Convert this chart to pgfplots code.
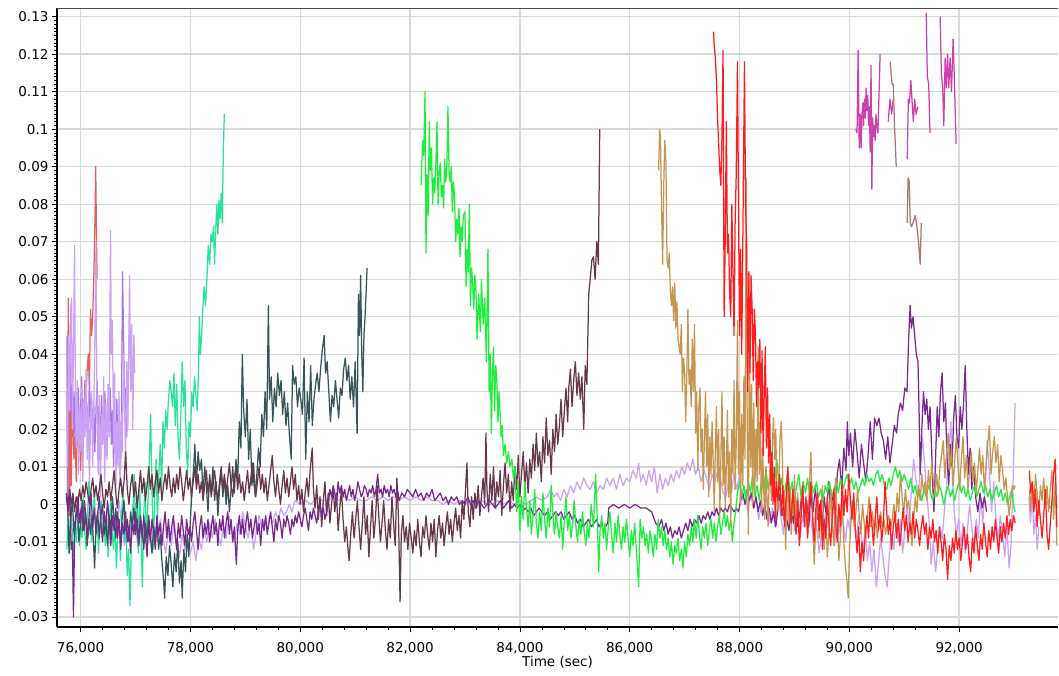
\documentclass[border=0pt]{standalone}
\usepackage{fontspec}
\setmainfont{DejaVu Sans}
\usepackage{pgfplots}
\usepackage{pgfplotstable}
\pgfplotsset{compat=1.18}

\definecolor{cLightRed}{RGB}{232,96,88}
\definecolor{cLav}{RGB}{202,162,246}
\definecolor{cMedPur}{RGB}{165,120,222}
\definecolor{cTeal}{RGB}{40,228,150}
\definecolor{cSlate}{RGB}{55,85,88}
\definecolor{cDkPur}{RGB}{122,40,145}
\definecolor{cMaroon}{RGB}{105,55,75}
\definecolor{cGreen}{RGB}{30,238,60}
\definecolor{cTan}{RGB}{198,150,80}
\definecolor{cRed}{RGB}{255,30,30}
\definecolor{cMag}{RGB}{205,65,175}
\definecolor{cRosy}{RGB}{175,115,115}
\definecolor{cGrid}{RGB}{218,218,218}

\begin{document}

% early light red burst
\pgfplotstableread{
x y
75760 0.000
75775 0.055
75790 0.010
75800 -0.003
75815 0.048
75830 0.005
75845 0.028
75860 0.022
75880 0.012
75900 0.018
75920 0.006
75940 0.025
75960 0.015
75980 0.020
76000 0.009
76020 0.019
76040 0.028
76060 0.024
76080 0.033
76100 0.030
76120 0.036
76140 0.040
76160 0.032
76180 0.052
76200 0.045
76220 0.050
76240 0.060
76260 0.075
76275 0.090
76290 0.070
76300 0.060
}\tLightRed

% early lavender burst
\pgfplotstableread{
x y
75740 0.030
75760 0.010
75780 0.045
75800 0.025
75820 0.052
75836 0.055
75850 0.020
75870 0.040
75890 0.069
75905 0.030
75920 0.015
75940 0.033
75960 0.008
75980 0.026
76000 0.014
76020 0.031
76040 0.006
76060 0.028
76080 0.018
76100 0.036
76120 0.012
76140 0.027
76160 0.004
76180 0.022
76200 0.030
76220 0.010
76240 0.026
76260 0.044
76280 0.070
76300 0.022
76320 0.008
76340 0.029
76360 0.002
76380 0.024
76400 0.016
76420 0.034
76440 0.006
76460 0.027
76480 0.012
76500 0.032
76520 0.018
76545 0.073
76560 0.040
76580 0.049
76600 0.015
76620 0.035
76640 0.003
76660 0.022
76680 0.010
76700 0.030
76720 0.005
76740 0.024
76760 0.014
76780 0.040
76800 0.026
76820 0.012
76840 0.038
76860 0.020
76891 0.061
76910 0.030
76930 0.048
76950 0.020
76970 0.045
76985 0.035
}\tLavA

% early medium purple burst
\pgfplotstableread{
x y
75750 0.045
75765 -0.003
75780 0.030
75800 0.034
75820 0.025
75840 0.032
75860 0.020
75880 0.030
75900 0.016
75920 0.027
75940 0.022
75960 0.031
75980 0.018
76000 0.026
76020 0.034
76040 0.012
76060 0.024
76080 0.030
76100 0.020
76120 0.026
76140 0.015
76160 0.035
76180 0.022
76200 0.028
76220 0.018
76240 0.027
76260 0.014
76280 0.025
76300 0.033
76320 0.019
76340 0.026
76360 0.012
76380 0.029
76400 0.021
76420 0.017
76440 0.030
76460 0.024
76480 0.013
76500 0.027
76520 0.020
76540 0.031
76560 0.016
76580 0.025
76600 0.010
76620 0.022
76640 0.018
76660 0.028
76680 0.012
76700 0.020
76720 0.008
76740 0.015
76764 0.062
76780 0.047
76800 0.025
76820 0.031
76840 0.018
76860 0.028
}\tMedPur

% teal
\pgfplotstableread{
x y
75750 -0.012
75775 -0.003
75800 -0.013
75825 0.000
75850 -0.008
75875 -0.014
75900 -0.005
75925 -0.010
75950 -0.002
75975 -0.011
76000 -0.006
76025 -0.009
76050 0.002
76075 -0.007
76100 -0.012
76125 -0.004
76150 0.006
76175 -0.002
76200 -0.010
76225 -0.005
76250 0.004
76275 -0.008
76300 -0.003
76325 -0.013
76350 -0.006
76375 0.001
76400 -0.009
76425 -0.004
76450 -0.011
76475 -0.002
76500 -0.014
76525 -0.006
76550 0.003
76575 -0.008
76600 -0.012
76625 -0.003
76650 -0.017
76675 -0.008
76700 -0.004
76725 -0.015
76750 -0.002
76775 0.005
76800 -0.010
76825 -0.006
76850 -0.019
76875 -0.012
76900 -0.027
76925 -0.010
76950 -0.004
76975 0.008
77000 -0.006
77025 0.002
77050 -0.013
77075 0.005
77100 -0.008
77125 -0.022
77150 -0.003
77175 0.006
77200 -0.011
77225 0.000
77250 0.010
77275 0.024
77300 0.004
77325 -0.012
77350 0.002
77375 0.012
77400 -0.005
77425 0.008
77450 0.016
77475 0.004
77500 0.022
77525 0.015
77550 0.025
77575 0.020
77600 0.028
77625 0.033
77650 0.030
77675 0.026
77700 0.035
77725 0.021
77750 0.032
77775 0.018
77800 0.012
77825 0.024
77850 0.038
77875 0.026
77900 0.033
77925 0.015
77950 0.008
77975 0.022
78000 0.018
78025 0.030
78050 0.026
78075 0.034
78100 0.029
78125 0.025
78150 0.038
78163 0.050
78180 0.040
78200 0.044
78225 0.052
78250 0.058
78275 0.053
78300 0.060
78325 0.069
78350 0.064
78375 0.072
78400 0.070
78420 0.074
78440 0.064
78460 0.073
78480 0.080
78500 0.072
78520 0.081
78540 0.076
78560 0.083
78580 0.075
78600 0.095
78618 0.104
}\tTeal

% dark slate
\pgfplotstableread{
x y
75760 0.002
75790 -0.013
75820 -0.004
75850 0.001
75880 -0.008
75910 -0.003
75940 0.000
75970 -0.010
76000 -0.005
76030 0.001
76060 -0.007
76090 -0.002
76120 -0.011
76150 -0.004
76180 -0.008
76210 -0.003
76240 -0.012
76255 -0.017
76280 -0.006
76310 -0.002
76340 -0.009
76370 -0.003
76400 0.000
76430 -0.008
76460 -0.005
76490 -0.011
76520 -0.003
76550 -0.007
76580 0.002
76610 -0.004
76640 -0.009
76670 -0.002
76700 -0.006
76730 -0.010
76760 -0.003
76790 0.001
76820 -0.007
76850 -0.004
76880 -0.010
76910 -0.002
76940 -0.006
76970 -0.001
77000 -0.008
77030 -0.004
77060 -0.010
77090 -0.003
77120 -0.007
77150 -0.012
77180 -0.005
77210 -0.009
77240 -0.003
77270 -0.008
77300 -0.013
77330 -0.006
77360 -0.010
77390 -0.004
77420 -0.012
77450 -0.008
77480 -0.015
77510 -0.020
77530 -0.025
77560 -0.014
77590 -0.019
77620 -0.011
77650 -0.016
77680 -0.022
77710 -0.013
77740 -0.018
77770 -0.010
77800 -0.021
77830 -0.015
77850 -0.025
77880 -0.012
77910 -0.018
77940 -0.008
77970 -0.014
78000 -0.004
78030 0.004
78060 0.010
78080 0.016
78110 0.006
78140 0.014
78170 0.009
78200 0.012
78230 0.003
78260 0.010
78290 0.005
78320 -0.002
78350 0.008
78380 0.003
78410 0.010
78440 0.001
78470 0.006
78500 -0.003
78530 0.004
78560 0.009
78590 0.002
78620 0.007
78650 0.000
78680 0.005
78710 -0.002
78740 0.004
78770 0.010
78800 0.003
78830 0.012
78860 0.006
78890 0.022
78920 0.015
78945 0.040
78970 0.025
79000 0.018
79030 0.028
79060 0.012
79090 0.020
79120 0.005
79150 0.011
79180 0.002
79210 0.008
79240 0.015
79270 0.010
79300 0.024
79330 0.018
79360 0.030
79390 0.020
79420 0.053
79440 0.028
79470 0.034
79500 0.022
79530 0.031
79560 0.026
79590 0.035
79620 0.029
79650 0.033
79680 0.024
79710 0.030
79740 0.021
79770 0.027
79800 0.019
79836 0.012
79860 0.037
79890 0.032
79920 0.034
79950 0.026
79980 0.031
80010 0.028
80040 0.024
80070 0.039
80100 0.012
80130 0.030
80160 0.022
80190 0.037
80220 0.021
80250 0.028
80280 0.032
80310 0.035
80340 0.030
80370 0.036
80400 0.041
80436 0.045
80460 0.035
80490 0.038
80520 0.030
80550 0.022
80580 0.029
80610 0.026
80640 0.033
80670 0.028
80700 0.023
80730 0.031
80760 0.029
80790 0.036
80820 0.039
80850 0.033
80880 0.037
80910 0.028
80940 0.034
80970 0.026
81000 0.038
81036 0.019
81060 0.056
81080 0.045
81100 0.061
81120 0.040
81140 0.030
81160 0.045
81180 0.050
81218 0.063
}\tSlate

% dark purple, whole range
\pgfplotstableread{
x y
75740 0.003
75770 -0.002
75800 0.004
75830 -0.012
75850 -0.010
75870 -0.030
75890 -0.008
75920 -0.003
75950 0.002
75980 -0.005
76010 -0.001
76040 -0.007
76070 0.001
76100 -0.004
76130 -0.009
76160 -0.002
76190 0.003
76220 -0.006
76250 -0.001
76280 -0.008
76310 -0.003
76340 0.002
76370 -0.005
76400 -0.010
76430 -0.002
76460 -0.006
76490 0.001
76520 -0.004
76550 -0.011
76580 -0.003
76610 -0.007
76640 -0.001
76670 -0.009
76700 -0.004
76730 -0.012
76760 -0.005
76790 -0.008
76820 -0.002
76850 -0.010
76880 -0.006
76910 -0.013
76940 -0.004
76970 -0.008
77000 -0.002
77030 -0.007
77060 -0.011
77090 -0.004
77120 -0.009
77150 -0.003
77180 -0.008
77210 -0.014
77240 -0.005
77270 -0.010
77300 -0.004
77330 -0.007
77360 -0.012
77390 -0.003
77420 -0.008
77450 -0.005
77480 -0.011
77510 -0.006
77540 -0.002
77570 -0.009
77600 -0.004
77630 -0.010
77660 -0.006
77690 -0.003
77720 -0.008
77750 -0.012
77780 -0.005
77810 -0.009
77840 -0.003
77870 -0.007
77900 -0.011
77930 -0.004
77960 -0.008
77990 -0.006
78020 -0.010
78050 -0.005
78080 -0.002
78110 -0.007
78140 -0.012
78170 -0.006
78200 -0.003
78230 -0.009
78260 -0.005
78290 -0.008
78320 -0.004
78350 -0.010
78380 -0.006
78410 -0.003
78440 -0.008
78470 -0.005
78500 -0.011
78530 -0.004
78560 -0.007
78590 -0.003
78620 -0.009
78650 -0.005
78680 -0.002
78710 -0.008
78740 -0.004
78770 -0.010
78800 -0.006
78836 -0.016
78860 -0.007
78890 -0.003
78920 -0.008
78950 -0.004
78980 -0.009
79010 -0.005
79040 -0.002
79070 -0.007
79100 -0.004
79130 -0.009
79160 -0.006
79190 -0.003
79220 -0.008
79250 -0.005
79280 -0.011
79310 -0.004
79340 -0.007
79370 -0.003
79400 -0.008
79430 -0.005
79460 -0.002
79490 -0.006
79520 -0.010
79550 -0.004
79580 -0.007
79610 -0.003
79640 -0.005
79670 -0.009
79700 -0.004
79730 -0.006
79760 -0.003
79790 -0.005
79820 -0.008
79850 -0.004
79880 -0.006
79910 -0.003
79940 -0.005
79970 -0.002
80000 -0.004
80030 -0.006
80060 -0.003
80090 -0.001
80120 -0.004
80150 -0.007
80180 -0.002
80210 -0.004
80240 -0.001
80270 -0.003
80300 -0.005
80330 -0.002
80360 0.000
80390 -0.003
80420 -0.001
80450 -0.004
80480 -0.002
80510 0.000
80540 0.004
80570 0.002
80600 0.005
80630 0.003
80660 0.000
80690 0.006
80720 0.003
80750 0.005
80780 0.002
80810 0.004
80840 0.001
80870 0.003
80900 0.005
80930 0.002
80960 0.004
80990 0.001
81020 0.003
81050 0.006
81080 0.004
81110 0.002
81140 0.003
81170 0.005
81200 0.004
81230 0.002
81260 0.004
81290 0.003
81320 0.005
81350 0.002
81380 0.004
81410 0.008
81440 0.003
81470 0.004
81500 0.002
81530 0.005
81560 0.003
81590 0.004
81620 0.002
81650 0.005
81680 0.003
81710 0.004
81740 0.002
81770 0.004
81800 0.001
81850 0.003
81900 0.002
81950 0.004
82000 0.003
82050 0.002
82100 0.004
82150 0.002
82200 0.003
82250 0.001
82300 0.003
82350 0.002
82400 0.004
82450 0.001
82500 0.002
82550 0.003
82600 0.001
82650 0.002
82700 0.000
82750 0.002
82800 0.001
82850 0.002
82900 0.000
82950 0.001
83000 0.000
83050 0.002
83100 0.000
83150 0.001
83200 -0.001
83250 0.001
83300 0.000
83350 -0.001
83400 0.000
83450 0.001
83500 0.000
83550 -0.001
83600 0.000
83650 0.001
83700 -0.001
83750 0.000
83800 0.001
83850 -0.001
83900 0.000
83950 -0.001
84000 0.000
84050 -0.002
84100 -0.001
84150 -0.002
84200 -0.001
84250 -0.003
84300 -0.002
84350 -0.001
84400 -0.002
84450 -0.003
84500 -0.002
84550 -0.004
84600 -0.003
84650 -0.002
84700 -0.003
84750 -0.002
84800 -0.004
84850 -0.003
84900 -0.002
84950 -0.004
85000 -0.003
85050 -0.005
85100 -0.004
85150 -0.006
85200 -0.005
85250 -0.004
85300 -0.006
85350 -0.005
85400 -0.004
85436 -0.006
85480 -0.005
85520 -0.007
85560 -0.006
85600 -0.005
85618 -0.001
85700 0.000
85800 -0.001
85900 0.000
86000 -0.001
86100 0.000
86200 -0.001
86300 -0.001
86400 -0.002
86473 -0.005
86530 -0.006
86580 -0.004
86620 -0.007
86660 -0.005
86700 -0.008
86740 -0.006
86780 -0.009
86820 -0.007
86860 -0.008
86900 -0.006
86940 -0.009
86980 -0.007
87020 -0.005
87060 -0.007
87100 -0.004
87140 -0.006
87180 -0.004
87220 -0.005
87260 -0.003
87300 -0.005
87340 -0.003
87380 -0.004
87420 -0.002
87460 -0.004
87500 -0.002
87540 -0.003
87580 -0.001
87620 -0.003
87660 -0.001
87700 -0.002
87740 -0.001
87780 -0.002
87820 0.000
87860 -0.001
87900 -0.002
87940 -0.001
87980 -0.002
88020 0.001
88060 0.003
88100 0.000
88140 0.004
88180 0.001
88220 0.003
88260 -0.001
88300 0.002
88340 -0.002
88380 0.001
88420 -0.003
88460 0.000
88500 -0.004
88540 -0.001
88580 -0.005
88620 -0.002
88660 -0.006
88700 -0.001
88740 0.003
88780 -0.003
88820 0.002
88860 -0.004
88900 -0.007
88940 0.000
88980 -0.005
89020 0.002
89060 -0.006
89100 -0.002
89140 0.004
89180 -0.003
89220 0.001
89260 -0.006
89300 0.003
89340 -0.002
89380 0.005
89420 -0.004
89460 0.000
89500 -0.007
89540 0.002
89580 -0.003
89620 0.006
89660 -0.001
89700 0.003
89740 -0.005
89780 0.008
89820 0.012
89860 0.004
89900 0.015
89940 0.009
89963 0.022
89990 0.013
90020 0.019
90060 0.010
90100 0.020
90140 0.014
90180 0.007
90220 0.016
90260 0.011
90300 0.006
90340 0.013
90381 0.022
90420 0.012
90460 0.023
90500 0.021
90540 0.023
90580 0.019
90620 0.017
90660 0.012
90700 0.018
90740 0.011
90780 0.016
90820 0.021
90860 0.019
90890 0.024
90930 0.027
90970 0.025
91010 0.031
91050 0.030
91080 0.044
91107 0.053
91130 0.047
91160 0.050
91190 0.045
91220 0.040
91250 0.038
91270 0.025
91290 0.008
91320 0.020
91350 0.030
91380 0.024
91410 0.028
91440 0.020
91470 0.026
91500 0.014
91520 0.005
91540 -0.002
91570 0.012
91600 0.026
91630 0.018
91660 0.030
91690 0.035
91720 0.022
91750 0.027
91780 0.012
91810 0.005
91840 0.016
91870 0.010
91900 0.023
91930 0.029
91960 0.018
91990 0.015
92020 0.026
92050 0.020
92080 0.027
92110 0.037
92140 0.020
92170 0.008
92200 0.015
92230 0.004
92260 0.010
92300 0.002
92340 -0.002
92380 0.003
92420 -0.001
92460 0.002
92500 -0.002
}\tDkPur

% maroon
\pgfplotstableread{
x y
75740 0.002
75770 -0.001
75800 0.004
75830 0.000
75860 0.003
75890 -0.002
75920 0.002
75950 0.000
75980 0.004
76010 0.001
76040 0.005
76070 0.002
76100 0.006
76130 0.003
76160 0.000
76190 0.004
76220 0.007
76250 0.002
76280 0.005
76310 0.001
76340 0.004
76370 0.008
76400 0.003
76430 -0.001
76460 0.004
76490 0.002
76520 0.006
76550 0.001
76580 0.005
76610 0.009
76640 0.003
76670 -0.001
76700 0.004
76730 0.007
76760 0.002
76790 0.006
76820 0.014
76850 0.004
76880 0.000
76910 0.005
76940 0.008
76970 0.002
77000 0.006
77030 -0.001
77060 0.004
77090 0.009
77120 0.003
77150 0.007
77180 0.001
77210 0.005
77240 0.010
77270 0.004
77300 0.008
77330 0.002
77360 0.006
77390 0.009
77420 0.003
77450 0.007
77480 0.001
77510 0.005
77540 0.008
77570 0.004
77600 0.010
77630 0.005
77660 0.002
77690 0.007
77720 0.003
77750 0.008
77780 0.004
77810 0.010
77840 0.006
77870 0.001
77900 0.005
77930 0.009
77960 0.004
77990 0.007
78020 0.002
78050 0.006
78080 0.010
78110 0.004
78140 0.008
78170 0.003
78200 0.006
78230 0.001
78260 0.005
78290 0.009
78320 0.003
78350 0.007
78380 0.002
78410 0.006
78440 0.009
78470 0.004
78500 0.001
78530 0.006
78560 0.010
78590 0.004
78620 0.008
78650 0.003
78680 0.007
78710 0.011
78740 0.005
78770 0.002
78800 0.007
78830 0.010
78860 0.004
78890 0.008
78920 0.003
78950 0.006
78980 0.001
79010 0.005
79040 0.009
79070 0.003
79100 0.007
79130 0.011
79160 0.005
79190 0.002
79220 0.006
79250 0.010
79280 0.004
79310 0.008
79340 0.003
79370 0.007
79400 0.001
79430 0.005
79460 0.009
79490 0.013
79520 0.006
79550 0.002
79580 0.008
79610 0.004
79640 0.000
79670 0.005
79700 0.009
79730 0.003
79760 0.007
79790 0.002
79820 0.006
79850 0.010
79880 0.004
79910 0.008
79940 0.001
79970 0.005
80000 0.000
80030 0.004
80060 -0.002
80090 0.003
80120 0.007
80150 0.002
80180 0.009
80218 0.015
80240 0.004
80270 -0.001
80300 0.005
80330 -0.004
80360 0.002
80390 -0.006
80420 0.001
80450 0.006
80480 -0.003
80510 0.003
80540 -0.005
80570 0.000
80600 0.004
80630 -0.002
80660 0.003
80690 -0.007
80720 -0.001
80750 0.004
80780 -0.004
80810 -0.010
80840 -0.006
80870 -0.012
80890 -0.015
80920 -0.008
80950 -0.002
80980 -0.009
81010 -0.004
81040 0.001
81070 -0.006
81100 -0.012
81130 -0.005
81160 0.002
81190 -0.008
81220 -0.003
81250 -0.014
81280 -0.006
81310 0.001
81340 -0.009
81370 -0.004
81400 0.005
81430 -0.003
81460 -0.010
81490 -0.005
81520 0.001
81550 -0.007
81580 -0.012
81610 -0.004
81640 -0.009
81670 0.002
81700 -0.005
81730 -0.011
81760 0.007
81790 -0.004
81818 -0.026
81840 -0.008
81870 -0.003
81900 -0.010
81930 -0.006
81960 -0.012
81990 -0.005
82020 -0.009
82050 -0.013
82080 -0.007
82110 -0.011
82140 -0.004
82170 -0.010
82200 -0.014
82230 -0.006
82260 -0.009
82290 -0.003
82320 -0.008
82350 -0.012
82380 -0.005
82410 -0.010
82440 -0.004
82470 -0.014
82500 -0.007
82530 -0.003
82560 -0.009
82590 -0.005
82620 -0.011
82650 -0.006
82680 -0.002
82710 -0.008
82740 -0.004
82770 -0.010
82800 -0.005
82830 -0.001
82860 -0.007
82890 -0.003
82920 -0.009
82950 0.001
82980 -0.004
83010 0.004
83036 0.011
83060 -0.002
83090 -0.006
83120 0.002
83150 -0.004
83180 0.003
83210 -0.001
83240 0.005
83270 -0.003
83300 0.002
83330 0.007
83360 0.000
83382 0.019
83400 0.004
83430 -0.002
83460 0.008
83490 0.001
83520 0.010
83550 -0.001
83580 0.006
83610 0.002
83640 0.009
83670 -0.003
83700 0.005
83730 0.011
83760 0.003
83790 0.008
83820 -0.002
83850 0.006
83880 0.001
83910 0.010
83940 0.004
83970 0.013
84000 0.002
84030 0.008
84060 0.014
84090 0.005
84120 0.011
84150 0.003
84180 0.012
84210 0.007
84240 0.016
84270 0.009
84300 0.019
84330 0.010
84360 0.014
84390 0.006
84420 0.018
84450 0.011
84480 0.023
84510 0.013
84540 0.017
84570 0.008
84600 0.020
84630 0.014
84660 0.024
84690 0.016
84720 0.021
84750 0.028
84780 0.018
84810 0.025
84840 0.031
84870 0.022
84890 0.031
84920 0.036
84950 0.026
84980 0.033
85010 0.038
85040 0.029
85070 0.035
85100 0.028
85130 0.034
85163 0.020
85190 0.037
85220 0.032
85254 0.056
85280 0.060
85310 0.065
85340 0.066
85370 0.060
85400 0.070
85430 0.064
85454 0.100
}\tMaroon

% long lavender
\pgfplotstableread{
x y
76500 -0.004
76550 -0.010
76600 -0.003
76650 -0.008
76700 0.001
76750 -0.006
76800 -0.011
76850 -0.004
76900 -0.009
76950 0.000
77000 -0.006
77050 -0.012
77100 -0.005
77150 -0.009
77200 -0.003
77250 -0.008
77300 -0.013
77350 -0.006
77400 -0.010
77450 -0.004
77500 -0.009
77550 -0.013
77600 -0.007
77650 -0.011
77700 -0.005
77750 -0.010
77800 -0.014
77850 -0.008
77900 -0.012
77950 -0.009
78000 -0.013
78050 -0.010
78100 -0.015
78150 -0.009
78200 -0.012
78250 -0.007
78300 -0.010
78350 -0.005
78400 -0.009
78450 -0.004
78500 -0.008
78550 -0.011
78600 -0.006
78650 -0.009
78700 -0.003
78750 -0.007
78800 -0.010
78850 -0.005
78900 -0.008
78950 -0.002
79000 -0.006
79050 -0.009
79100 -0.004
79150 -0.012
79200 -0.007
79250 -0.003
79300 -0.006
79350 -0.004
79400 -0.007
79450 -0.003
79500 -0.005
79550 -0.002
79600 -0.004
79650 -0.001
79700 -0.003
79750 -0.002
79800 0.000
79850 -0.002
79900 0.001
80000 0.000
80100 0.001
80200 0.000
80300 0.002
80400 0.001
80500 0.001
80600 0.002
80700 0.001
80800 0.002
80900 0.001
81000 0.002
81100 0.001
81200 0.001
81300 0.002
81400 0.001
81500 0.002
81600 0.001
81700 0.002
81800 0.001
81900 0.002
82000 0.001
82100 0.002
82200 0.001
82300 0.002
82400 0.001
82500 0.001
82600 0.000
82700 0.001
82800 0.000
82900 0.001
83000 0.000
83100 0.001
83200 0.000
83300 0.001
83400 0.000
83500 0.000
83600 0.001
83700 0.000
83800 0.001
83900 0.000
84000 0.001
84100 0.000
84200 0.001
84300 0.002
84400 0.001
84500 0.002
84560 0.004
84620 0.002
84680 0.003
84740 0.001
84800 0.004
84860 0.002
84920 0.005
84980 0.003
85040 0.006
85100 0.004
85160 0.007
85220 0.005
85280 0.004
85340 0.006
85400 0.003
85460 0.005
85520 0.004
85580 0.007
85640 0.005
85700 0.007
85760 0.004
85820 0.008
85880 0.005
85940 0.007
86000 0.006
86060 0.009
86120 0.007
86163 0.011
86200 0.006
86250 0.008
86300 0.005
86350 0.009
86400 0.006
86450 0.010
86500 0.003
86550 0.008
86600 0.004
86650 0.007
86700 0.005
86750 0.008
86800 0.006
86850 0.009
86900 0.007
86950 0.010
87000 0.008
87050 0.011
87100 0.009
87150 0.012
87200 0.008
87250 0.010
87300 0.006
87350 0.009
87400 0.007
87450 0.004
87500 0.008
87550 0.006
87600 0.009
87650 0.007
87700 0.003
87750 0.002
87800 0.006
87850 0.003
87900 0.008
87950 0.004
88000 0.008
88050 0.001
88100 0.004
88150 -0.002
88200 0.003
88250 -0.001
88300 0.002
88350 -0.004
88400 0.000
88450 -0.003
88500 0.002
88550 -0.005
88600 -0.001
88650 -0.006
88700 0.002
88750 -0.003
88800 -0.008
88850 0.000
88900 -0.005
88950 0.001
89000 -0.007
89050 -0.002
89100 -0.009
89150 -0.003
89200 -0.006
89250 0.001
89300 -0.004
89350 -0.010
89400 -0.005
89450 -0.013
89490 -0.008
89530 -0.002
89570 -0.009
89610 -0.004
89650 0.002
89690 -0.006
89730 -0.011
89770 -0.003
89810 -0.008
89850 0.000
89890 -0.005
89930 -0.010
89970 -0.004
90010 -0.007
90050 0.001
90090 -0.005
90130 -0.009
90170 -0.003
90210 -0.007
90250 -0.012
90290 -0.006
90330 -0.015
90370 -0.010
90410 -0.018
90450 -0.012
90490 -0.022
90530 -0.016
90570 -0.009
90610 -0.014
90650 -0.019
90690 -0.022
90730 -0.013
90770 -0.008
90810 -0.012
90850 -0.005
90890 -0.010
90930 -0.004
90970 -0.013
91010 -0.007
91050 0.000
91090 -0.006
91130 0.004
91170 0.012
91210 0.007
91250 0.002
91290 0.009
91330 0.018
91370 0.011
91410 0.003
91450 -0.004
91490 -0.016
91530 -0.010
91570 -0.018
91610 -0.012
91650 -0.006
91690 -0.009
91730 -0.002
91770 0.005
91810 0.014
91850 0.022
91880 0.006
91910 -0.002
91950 -0.008
91990 -0.004
92030 -0.011
92070 -0.005
92110 -0.013
92150 -0.007
92190 0.000
92230 -0.006
92270 -0.012
92310 -0.004
92350 -0.009
92390 0.002
92430 -0.005
92470 0.004
92510 0.017
92550 0.009
92590 -0.002
92630 0.006
92670 -0.004
92710 -0.010
92750 -0.003
92790 -0.008
92830 -0.014
92870 -0.006
92910 -0.017
92945 -0.011
92980 0.005
93018 0.027
93150 nan
93270 0.002
93300 -0.005
93330 0.003
93360 -0.008
93390 -0.003
93420 -0.012
93450 -0.006
}\tLavB

% bright green
\pgfplotstableread{
x y
82200 0.085
82230 0.097
82250 0.093
82272 0.110
82290 0.067
82310 0.088
82330 0.077
82350 0.102
82370 0.089
82390 0.095
82410 0.080
82430 0.087
82450 0.083
82470 0.091
82490 0.102
82510 0.080
82530 0.088
82550 0.091
82570 0.082
82590 0.085
82610 0.079
82630 0.092
82650 0.086
82670 0.090
82690 0.106
82710 0.089
82730 0.086
82750 0.090
82770 0.078
82790 0.086
82810 0.082
82830 0.070
82850 0.076
82870 0.072
82890 0.079
82910 0.066
82930 0.074
82950 0.070
82970 0.077
83000 0.078
83020 0.058
83040 0.068
83060 0.062
83080 0.080
83100 0.053
83120 0.063
83140 0.059
83160 0.052
83180 0.061
83200 0.057
83220 0.044
83250 0.056
83280 0.046
83300 0.060
83330 0.048
83360 0.055
83390 0.038
83418 0.068
83440 0.030
83460 0.040
83480 0.019
83500 0.035
83520 0.042
83540 0.025
83560 0.037
83580 0.033
83600 0.022
83620 0.030
83640 0.024
83660 0.018
83680 0.021
83700 0.013
83730 0.016
83760 0.011
83790 0.014
83820 0.010
83855 0.012
83880 0.007
83910 0.010
83940 -0.002
83970 0.006
84000 -0.007
84030 0.002
84060 -0.004
84090 0.006
84120 -0.001
84150 -0.006
84180 0.001
84210 -0.008
84240 -0.003
84270 0.004
84300 -0.005
84330 -0.009
84360 -0.002
84390 -0.007
84420 0.003
84450 -0.004
84480 -0.009
84510 -0.001
84540 -0.006
84570 0.005
84600 -0.003
84630 -0.008
84660 -0.002
84690 -0.006
84720 -0.009
84750 -0.003
84780 -0.012
84810 -0.004
84840 0.002
84870 -0.007
84900 -0.003
84930 -0.009
84960 -0.005
84990 0.001
85020 -0.006
85050 -0.010
85080 -0.004
85110 -0.008
85140 -0.002
85170 -0.007
85200 -0.011
85230 -0.005
85260 -0.009
85300 0.000
85340 -0.006
85380 0.008
85410 -0.004
85436 -0.018
85460 -0.007
85490 -0.003
85520 -0.009
85550 -0.005
85580 -0.012
85610 -0.006
85640 -0.002
85670 -0.008
85700 -0.013
85730 -0.005
85760 -0.010
85790 -0.003
85820 -0.008
85850 -0.012
85880 -0.006
85910 -0.010
85940 -0.004
85970 -0.009
86000 -0.014
86030 -0.007
86060 -0.011
86090 -0.005
86120 -0.012
86163 -0.022
86190 -0.004
86220 -0.009
86250 -0.006
86280 -0.011
86310 -0.008
86340 -0.013
86370 -0.007
86400 -0.010
86430 -0.014
86460 -0.008
86490 -0.012
86520 -0.004
86550 -0.009
86580 -0.006
86610 -0.011
86640 -0.007
86670 -0.012
86700 -0.009
86730 -0.014
86760 -0.010
86790 -0.016
86820 -0.011
86850 -0.013
86880 -0.009
86910 -0.015
86940 -0.012
86970 -0.017
87000 -0.010
87030 -0.014
87060 -0.008
87090 -0.011
87120 -0.006
87150 -0.010
87180 -0.004
87210 -0.009
87240 -0.003
87270 -0.008
87300 -0.012
87330 -0.006
87360 -0.009
87390 -0.005
87420 -0.011
87450 -0.007
87480 -0.004
87510 -0.009
87540 -0.005
87570 -0.010
87600 -0.006
87630 -0.003
87660 -0.008
87690 -0.005
87720 -0.002
87750 -0.006
87780 -0.003
87810 -0.007
87840 -0.004
87870 -0.010
87900 -0.005
87930 -0.002
87960 0.003
88000 0.006
88040 0.002
88080 0.005
88120 0.001
88160 0.006
88200 0.003
88240 0.008
88280 0.002
88320 0.005
88360 0.001
88400 0.007
88440 0.003
88480 0.010
88520 0.004
88560 0.008
88600 0.002
88640 0.006
88680 0.012
88720 0.004
88760 0.007
88800 0.001
88840 0.005
88880 0.009
88920 0.003
88960 0.006
89000 0.001
89040 0.005
89080 0.008
89120 0.002
89160 0.006
89200 0.003
89240 0.007
89280 0.002
89320 0.005
89360 0.003
89400 0.006
89440 0.002
89480 0.004
89520 0.001
89560 0.005
89600 0.003
89640 0.006
89680 0.002
89720 0.004
89760 0.006
89800 0.003
89840 0.007
89880 0.004
89920 0.006
89960 0.008
90000 0.005
90040 0.007
90080 0.004
90120 0.006
90160 0.003
90200 0.005
90240 0.007
90280 0.005
90320 0.008
90360 0.006
90400 0.007
90440 0.005
90480 0.008
90520 0.009
90560 0.006
90600 0.008
90640 0.005
90680 0.004
90720 0.007
90760 0.005
90800 0.008
90840 0.010
90880 0.007
90920 0.009
90960 0.006
91000 0.008
91040 0.006
91080 0.004
91120 0.007
91160 0.003
91200 0.005
91240 0.002
91280 0.004
91320 0.001
91360 0.004
91400 0.002
91440 0.005
91480 0.003
91520 0.001
91560 0.004
91600 0.002
91640 0.005
91680 0.003
91720 0.000
91760 0.003
91800 0.005
91840 0.002
91880 0.004
91920 0.001
91960 0.004
92000 0.006
92040 0.003
92080 0.005
92120 0.002
92160 0.004
92200 0.001
92240 0.003
92280 0.005
92320 0.002
92360 0.004
92400 0.006
92440 0.003
92480 0.005
92520 0.002
92560 0.004
92600 0.001
92640 0.003
92680 0.005
92720 0.002
92760 0.004
92800 0.001
92840 0.003
92880 0.000
92920 0.002
92960 0.004
93000 -0.001
93020 -0.002
93300 nan
93600 0.001
93650 -0.001
93700 0.000
93750 0.001
93790 -0.001
}\tGreen

% tan
\pgfplotstableread{
x y
86527 0.089
86545 0.100
86560 0.098
86580 0.079
86600 0.064
86620 0.085
86640 0.097
86660 0.091
86680 0.065
86700 0.063
86720 0.067
86740 0.057
86760 0.053
86780 0.058
86800 0.049
86820 0.059
86840 0.047
86860 0.054
86880 0.044
86900 0.042
86920 0.040
86940 0.048
86960 0.030
86980 0.039
87000 0.035
87020 0.022
87040 0.034
87060 0.052
87080 0.032
87100 0.036
87120 0.026
87140 0.044
87160 0.030
87180 0.048
87200 0.019
87220 0.030
87240 0.009
87260 0.026
87280 0.031
87300 0.014
87320 0.020
87340 0.004
87360 0.017
87380 0.030
87400 0.010
87420 0.024
87440 0.002
87460 0.018
87480 0.008
87500 0.022
87520 0.012
87540 -0.002
87560 0.015
87580 0.026
87600 0.006
87620 0.020
87640 -0.004
87660 0.012
87680 0.030
87700 0.005
87720 0.018
87740 -0.001
87760 0.010
87780 0.025
87800 0.002
87820 0.014
87840 -0.006
87860 0.020
87880 0.008
87900 0.033
87920 0.004
87940 0.016
87963 0.049
87980 0.008
88000 0.030
88020 0.000
88040 0.024
88060 0.005
88080 0.034
88100 0.012
88120 0.087
88140 0.020
88160 -0.008
88180 0.045
88200 0.010
88220 0.032
88240 0.000
88260 0.027
88280 0.004
88300 0.020
88320 0.006
88340 0.042
88360 0.008
88380 0.022
88400 -0.002
88420 0.015
88440 0.004
88460 -0.004
88480 0.010
88500 0.002
88520 -0.006
88540 0.006
88560 0.011
88580 0.001
88600 0.017
88620 0.023
88640 0.012
88660 0.020
88680 0.003
88700 -0.002
88720 0.008
88740 0.018
88760 0.022
88780 0.013
88800 -0.004
88820 0.003
88840 -0.012
88860 0.000
88880 0.006
88900 -0.005
88920 0.004
88940 -0.008
88960 0.002
88980 -0.003
89000 0.008
89030 -0.006
89060 0.003
89090 -0.010
89120 -0.002
89150 0.006
89180 -0.004
89210 0.001
89240 -0.008
89270 0.004
89300 0.014
89330 -0.003
89360 -0.016
89390 -0.006
89420 0.002
89450 -0.009
89480 -0.004
89510 0.005
89540 -0.012
89570 -0.003
89600 -0.014
89630 -0.007
89660 0.004
89690 -0.005
89720 -0.011
89750 0.007
89780 -0.004
89810 -0.015
89840 -0.008
89870 0.000
89900 -0.010
89930 -0.017
89960 -0.021
89980 -0.025
90000 -0.013
90030 -0.004
90060 0.001
90090 -0.006
90120 -0.002
90150 0.004
90180 -0.003
90210 -0.008
90240 0.000
90270 -0.005
90300 -0.009
90330 -0.003
90360 0.002
90390 -0.006
90420 -0.002
90450 -0.007
90480 -0.004
90510 -0.009
90540 -0.005
90570 -0.002
90600 -0.006
90630 -0.004
90660 -0.008
90690 -0.005
90720 -0.003
90750 -0.007
90780 -0.004
90810 0.000
90840 -0.005
90870 0.003
90900 -0.002
90930 0.008
90960 0.002
90990 -0.003
91020 0.004
91050 -0.001
91080 0.001
91110 -0.005
91140 -0.011
91170 -0.004
91200 0.002
91230 -0.002
91260 0.005
91290 0.001
91320 0.008
91350 0.003
91380 0.006
91410 0.001
91440 0.009
91470 0.004
91500 0.011
91530 0.006
91560 0.002
91590 0.008
91620 0.003
91650 0.010
91680 0.013
91710 0.017
91740 0.007
91770 0.014
91800 0.019
91830 0.009
91860 0.015
91890 0.005
91920 0.012
91950 0.018
91980 0.010
92010 0.004
92040 0.012
92070 0.018
92100 0.007
92130 0.013
92160 0.004
92190 0.009
92220 0.014
92250 0.006
92280 0.011
92310 0.003
92340 0.009
92370 0.015
92400 0.008
92430 0.013
92460 0.004
92490 0.010
92520 0.016
92550 0.021
92580 0.008
92610 0.014
92640 0.018
92670 0.011
92700 0.016
92730 0.006
92760 0.013
92790 0.009
92820 0.004
92850 0.007
92880 0.002
92910 -0.003
92940 0.001
92970 0.005
93000 0.004
93020 0.005
93150 nan
93280 0.004
93300 -0.002
93330 0.006
93360 0.000
93390 0.008
93420 0.003
93450 -0.003
93480 0.005
93510 0.001
93540 0.007
93570 0.000
93600 0.005
93630 -0.002
93660 0.004
93690 0.009
93720 -0.004
93750 0.006
93780 -0.011
}\tTan

% red
\pgfplotstableread{
x y
87527 0.126
87540 0.122
87560 0.119
87580 0.113
87600 0.103
87620 0.096
87640 0.089
87660 0.085
87680 0.098
87700 0.121
87720 0.050
87740 0.071
87760 0.102
87780 0.067
87800 0.072
87820 0.056
87840 0.050
87860 0.080
87880 0.062
87900 0.045
87920 0.075
87940 0.088
87963 0.118
87980 0.082
88000 0.045
88020 0.068
88040 0.040
88060 0.070
88090 0.118
88110 0.080
88130 0.069
88150 0.030
88170 0.062
88190 0.035
88210 0.061
88230 0.052
88250 0.033
88270 0.052
88290 0.046
88310 0.026
88330 0.038
88350 0.031
88370 0.044
88390 0.019
88410 0.041
88430 0.013
88450 0.030
88470 0.042
88490 0.015
88510 0.031
88530 0.011
88550 0.024
88570 0.005
88590 0.014
88610 0.000
88630 0.010
88650 -0.004
88670 0.006
88700 0.001
88730 0.008
88760 -0.003
88790 0.005
88820 -0.006
88850 0.002
88880 0.010
88910 0.000
88940 -0.005
88970 0.004
89000 -0.002
89030 -0.008
89060 0.001
89090 -0.011
89120 -0.004
89150 0.005
89180 -0.006
89210 0.002
89240 -0.009
89270 0.000
89300 0.006
89330 -0.003
89360 -0.010
89390 -0.001
89420 0.003
89450 -0.007
89480 0.001
89510 -0.012
89540 -0.004
89570 -0.009
89600 0.002
89630 -0.006
89660 -0.011
89690 -0.003
89720 0.004
89750 -0.005
89780 -0.010
89810 0.000
89840 -0.006
89870 0.006
89900 -0.003
89930 0.004
89960 -0.002
89990 0.008
90020 0.001
90050 -0.004
90080 0.003
90110 -0.007
90140 -0.013
90170 -0.006
90200 -0.018
90230 -0.010
90260 -0.015
90290 -0.008
90320 -0.003
90350 -0.009
90380 0.000
90410 -0.005
90440 -0.011
90470 -0.004
90500 0.002
90530 -0.007
90560 -0.003
90590 -0.010
90620 -0.005
90650 0.006
90680 -0.002
90710 -0.008
90740 -0.004
90770 -0.012
90800 -0.006
90830 -0.002
90860 -0.009
90890 -0.004
90920 -0.011
90950 -0.006
90980 -0.001
91010 -0.007
91040 -0.003
91070 -0.010
91100 -0.005
91130 -0.008
91160 -0.002
91190 -0.009
91220 -0.004
91250 -0.007
91280 -0.011
91310 -0.006
91340 -0.003
91370 -0.008
91400 -0.005
91430 -0.012
91460 -0.006
91490 -0.009
91520 -0.004
91550 -0.010
91580 -0.007
91610 -0.013
91640 -0.006
91670 -0.010
91700 -0.015
91730 -0.008
91760 -0.012
91790 -0.020
91820 -0.011
91850 -0.015
91880 -0.009
91910 -0.013
91940 -0.007
91970 -0.012
92000 -0.009
92030 -0.015
92060 -0.010
92090 -0.006
92120 -0.012
92150 -0.008
92180 -0.014
92210 -0.018
92240 -0.009
92270 -0.013
92300 -0.006
92330 -0.011
92360 -0.015
92390 -0.008
92420 -0.012
92450 -0.005
92480 -0.010
92510 -0.014
92540 -0.007
92570 -0.012
92600 -0.006
92630 -0.010
92660 -0.004
92690 -0.009
92720 -0.013
92750 -0.006
92780 -0.010
92810 -0.005
92840 -0.009
92870 -0.003
92900 -0.008
92930 -0.004
92960 -0.007
92990 -0.003
93020 -0.005
93150 nan
93280 0.009
93300 0.003
93330 0.006
93360 -0.002
93390 0.004
93420 -0.006
93450 0.001
93480 -0.004
93510 -0.009
93540 -0.003
93570 0.004
93600 -0.008
93630 -0.012
93660 -0.005
93690 0.001
93720 0.008
93750 0.012
93780 -0.006
}\tRed

% magenta fragments
\pgfplotstableread{
x y
90120 0.100
90140 0.099
90160 0.121
90180 0.095
90200 0.104
90215 0.095
90230 0.104
90245 0.107
90260 0.101
90275 0.108
90290 0.103
90305 0.111
90320 0.105
90335 0.109
90350 0.101
90365 0.106
90380 0.094
90395 0.117
90410 0.084
90425 0.103
90440 0.098
90455 0.101
90470 0.097
90485 0.104
90500 0.101
90520 0.099
90540 0.109
90560 0.120
90640 nan
90709 0.102
90740 0.108
90770 0.104
90800 0.108
90950 nan
91054 0.092
91075 0.108
91095 0.107
91120 0.113
91140 0.108
91165 0.102
91190 0.108
91215 0.104
91250 0.106
91320 nan
91400 0.131
91420 0.114
91445 0.112
91470 0.099
91560 nan
91654 0.130
91675 0.115
91700 0.111
91720 0.101
91745 0.119
91765 0.111
91790 0.120
91810 0.111
91835 0.119
91860 0.110
91890 0.124
91915 0.112
91945 0.096
}\tMag

% rosy brown fragments
\pgfplotstableread{
x y
90745 0.118
90765 0.114
90780 0.112
90800 0.112
90820 0.102
90854 0.090
90950 nan
91054 0.075
91070 0.087
91090 0.086
91110 0.075
91130 0.074
91160 0.075
91180 0.076
91200 0.077
91230 0.074
91260 0.070
91290 0.064
91310 0.075
}\tRosy

\begin{tikzpicture}
\begin{axis}[
  name=ax,
  scale only axis,
  width=1001pt, height=619pt,
  xmin=75570, xmax=93800,
  ymin=-0.0327, ymax=0.1323,
  axis x line*=bottom,
  axis y line*=left,
  axis line style={black, line width=1.6pt},
  xtick={76000,78000,80000,82000,84000,86000,88000,90000,92000},
  ytick={-0.03,-0.02,-0.01,0,0.01,0.02,0.03,0.04,0.05,0.06,0.07,0.08,0.09,0.1,0.11,0.12,0.13},
  minor x tick num=4,
  minor y tick num=9,
  tick align=outside,
  major tick length=5pt,
  minor tick length=3pt,
  tick style={black, line width=0.6pt},
  grid=major,
  major grid style={cGrid, line width=1.4pt},
  scaled ticks=false,
  /pgf/number format/assume math mode=true,
  x tick label style={/pgf/number format/.cd, 1000 sep={,}, /tikz/.cd, font=\fontsize{13.5}{15}\selectfont, anchor=center, yshift=-16pt},
  y tick label style={/pgf/number format/.cd, fixed, precision=2, /tikz/.cd, font=\fontsize{13.5}{15}\selectfont},
  xlabel={Time (sec)},
  xlabel style={font=\fontsize{13.5}{15}\selectfont, at={(axis description cs:0.5,0)}, anchor=center, yshift=-35pt},
  unbounded coords=jump,
  every axis plot/.append style={line width=1.25pt, line join=round, no markers},
  clip=true,
]
\addplot[cLightRed] table {\tLightRed};
\addplot[cMedPur] table {\tMedPur};
\addplot[cLav] table {\tLavA};
\addplot[cLav] table {\tLavB};
\addplot[cTeal] table {\tTeal};
\addplot[cSlate] table {\tSlate};
\addplot[cMaroon] table {\tMaroon};
\addplot[cDkPur] table {\tDkPur};
\addplot[cGreen] table {\tGreen};
\addplot[cTan] table {\tTan};
\addplot[cRed] table {\tRed};
\addplot[cMag] table {\tMag};
\addplot[cRosy] table {\tRosy};
\end{axis}
\draw[black!70, line width=0.6pt] (ax.north west) -- (ax.north east);
\pgfresetboundingbox
\path (ax.south west) ++(-57pt,-48pt) rectangle ++(1059pt,675pt);
\end{tikzpicture}

\end{document}
